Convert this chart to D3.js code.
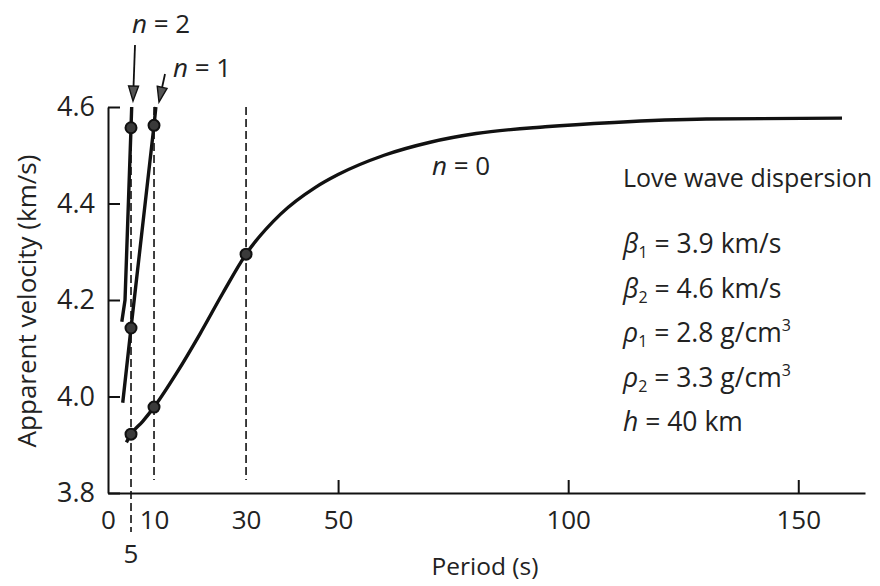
<!DOCTYPE html>
<html>
<head>
<meta charset="utf-8">
<script src="https://cdn.jsdelivr.net/npm/d3@7"></script>
<style>
  body { margin: 0; background: #fff; }
  svg text { font-family: "Open Sans", "Noto Sans", sans-serif; fill: #222; }
</style>
</head>
<body>
<div class="chart"></div>
<script>
// data: [period (s), apparent velocity (km/s)]
var modeN0 = [[4, 3.905], [5, 3.922], [7.5, 3.948], [10, 3.978], [15, 4.05], [20, 4.13],
  [25, 4.215], [30, 4.295], [37.5, 4.378], [45, 4.433], [50, 4.46], [60, 4.50],
  [70, 4.527], [80, 4.545], [95, 4.559], [110, 4.568], [130, 4.575], [159.5, 4.577]];
var modeN1 = [[3.2, 3.987], [5, 4.142], [10, 4.562], [10.4, 4.6]];
var modeN2 = [[3.0, 4.155], [3.7, 4.2], [5, 4.557], [5.15, 4.6]];

// picked periods with the dots on them
var pickedPeriods = [5, 10, 30];
var pickedPoints = [[5, 3.922], [10, 3.978], [30, 4.295], [5, 4.142], [10, 4.562], [5, 4.557]];

// ticks
var xTickValues = [0, 10, 30, 50, 100, 150];
var xTickMarks = [50, 100, 150];
var yTickValues = [3.8, 4.0, 4.2, 4.4, 4.6];

// legend text
var legendTitle = "Love wave dispersion";
var legendLines = [
  {sym: "β", sub: "1", rest: " = 3.9 km/s", sup: ""},
  {sym: "β", sub: "2", rest: " = 4.6 km/s", sup: ""},
  {sym: "ρ", sub: "1", rest: " = 2.8 g/cm", sup: "3"},
  {sym: "ρ", sub: "2", rest: " = 3.3 g/cm", sup: "3"},
  {sym: "h", sub: "", rest: " = 40 km", sup: ""}
];

// SVG ---------------------------------------------------
var svgWidth = 880;
var svgHeight = 586;

var svg = d3.select(".chart")
  .append("svg")
  .attr("width", svgWidth)
  .attr("height", svgHeight);

var x = d3.scaleLinear().domain([0, 164.5]).range([108, 865]);
var y = d3.scaleLinear().domain([3.8, 4.6]).range([493, 107]);

// dashed guide lines at the picked periods
var dashBottoms = {5: 532, 10: 480, 30: 480};
svg.selectAll("line.guide")
  .data(pickedPeriods)
  .enter()
  .append("line")
  .attr("class", "guide")
  .attr("x1", d => x(d))
  .attr("x2", d => x(d))
  .attr("y1", y(4.6))
  .attr("y2", d => dashBottoms[d])
  .attr("stroke", "#111")
  .attr("stroke-width", 1.6)
  .attr("stroke-dasharray", "8,4");

// x axis
var xAxis = svg.append("g")
  .attr("transform", `translate(0, ${y(3.8)})`)
  .call(d3.axisBottom(x)
    .tickValues(xTickValues)
    .tickFormat(d3.format("d"))
    .tickSizeInner(-13)
    .tickSizeOuter(0)
    .tickPadding(18));

xAxis.selectAll(".tick line")
  .attr("opacity", d => xTickMarks.indexOf(d) >= 0 ? 1 : 0);

// the "5" sits below the others
xAxis.append("text")
  .attr("x", x(5))
  .attr("y", 70)
  .attr("text-anchor", "middle")
  .text("5");

// y axis
var yAxis = svg.append("g")
  .attr("transform", `translate(${x(0)}, 0)`)
  .call(d3.axisLeft(y)
    .tickValues(yTickValues)
    .tickFormat(d3.format(".1f"))
    .tickSizeInner(-12)
    .tickSizeOuter(0)
    .tickPadding(13));

svg.selectAll(".domain, .tick line")
  .attr("stroke", "#111")
  .attr("stroke-width", 2);

xAxis.selectAll("text")
  .attr("font-size", "26px")
  .attr("font-family", "Open Sans")
  .attr("fill", "#222");
yAxis.selectAll("text")
  .attr("font-size", "27px")
  .attr("font-family", "Open Sans")
  .attr("fill", "#222");

// axis titles
svg.append("text")
  .attr("transform", "rotate(-90)")
  .attr("x", -301)
  .attr("y", 36)
  .attr("text-anchor", "middle")
  .attr("font-size", "26px")
  .text("Apparent velocity (km/s)");

svg.append("text")
  .attr("x", 485)
  .attr("y", 575)
  .attr("text-anchor", "middle")
  .attr("font-size", "24.5px")
  .text("Period (s)");

// dispersion curves
var line = d3.line()
  .x(d => x(d[0]))
  .y(d => y(d[1]));

[modeN0, modeN1, modeN2].forEach(function(mode) {
  svg.append("path")
    .datum(mode)
    .attr("d", line.curve(mode === modeN0 ? d3.curveMonotoneX : d3.curveLinear))
    .attr("fill", "none")
    .attr("stroke", "#111")
    .attr("stroke-width", 3.4);
});

// picked points
svg.selectAll("circle.pick")
  .data(pickedPoints)
  .enter()
  .append("circle")
  .attr("class", "pick")
  .attr("cx", d => x(d[0]))
  .attr("cy", d => y(d[1]))
  .attr("r", 5.5)
  .attr("fill", "#3a3a3a")
  .attr("stroke", "#111")
  .attr("stroke-width", 2);

// mode labels with arrows
function modeLabel(num, tx, ty, from, to) {
  var t = svg.append("text")
    .attr("x", tx)
    .attr("y", ty)
    .attr("font-size", "26px");
  t.append("tspan").attr("font-style", "italic").text("n");
  t.append("tspan").text(" = " + num);

  var angle = Math.atan2(-(to[0] - from[0]), to[1] - from[1]) * 180 / Math.PI;
  var len = Math.hypot(to[0] - from[0], to[1] - from[1]);
  var g = svg.append("g")
    .attr("transform", `translate(${from[0]}, ${from[1]}) rotate(${angle})`);
  g.append("line")
    .attr("x1", 0).attr("y1", 0)
    .attr("x2", 0).attr("y2", len - 14)
    .attr("stroke", "#111")
    .attr("stroke-width", 1.8);
  g.append("path")
    .attr("d", `M-5,${len - 15} L5,${len - 15} L0,${len} Z`)
    .attr("fill", "#555")
    .attr("stroke", "#111")
    .attr("stroke-width", 1.4);
}
modeLabel(2, 132, 33, [135, 45], [133, 101]);
modeLabel(1, 173, 77, [165, 74], [159, 102]);

var n0Label = svg.append("text")
  .attr("x", 432)
  .attr("y", 175)
  .attr("font-size", "26px");
n0Label.append("tspan").attr("font-style", "italic").text("n");
n0Label.append("tspan").text(" = 0");

// legend
svg.append("text")
  .attr("x", 623)
  .attr("y", 187)
  .attr("font-size", "25px")
  .text(legendTitle);

legendLines.forEach(function(d, i) {
  var t = svg.append("text")
    .attr("x", 623)
    .attr("y", 253 + i * 44.5)
    .attr("font-size", "26.5px");
  t.append("tspan").attr("font-style", "italic").text(d.sym);
  if (d.sub) {
    t.append("tspan").attr("font-size", "16px").attr("dy", 5).text(d.sub);
    t.append("tspan").attr("dy", -5).text(d.rest);
  } else {
    t.append("tspan").text(d.rest);
  }
  if (d.sup) {
    t.append("tspan").attr("font-size", "16px").attr("dy", -11).text(d.sup);
  }
});
</script>
</body>
</html>
